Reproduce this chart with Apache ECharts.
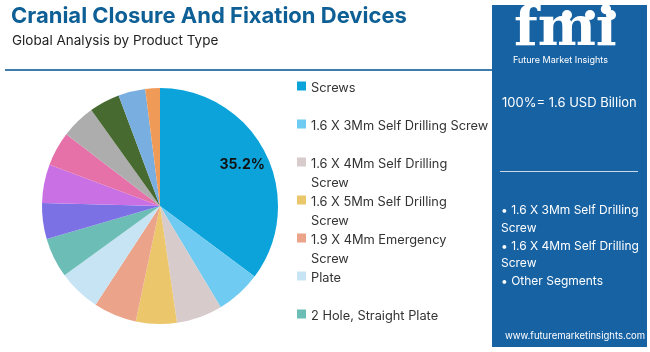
<!DOCTYPE html>
<html>
<head>
<meta charset="utf-8">
<script src="https://cdn.jsdelivr.net/npm/echarts@6/dist/echarts.min.js"></script>
<style>
  html, body { margin: 0; padding: 0; background: #fff; }
  #main { width: 650px; height: 352px; }
</style>
</head>
<body>
<div id="main"></div>
<script>
// 数据：产品类型及占比
var categories = [
  'Screws',
  '1.6 X 3Mm Self Drilling Screw',
  '1.6 X 4Mm Self Drilling Screw',
  '1.6 X 5Mm Self Drilling Screw',
  '1.9 X 4Mm Emergency Screw',
  'Plate',
  '2 Hole, Straight Plate',
  '4 Hole, Straight Plate',
  'Burr Hole Cover',
  'Mesh',
  'Clamps',
  'Skull Clamp',
  'Instruments',
  'Others'
]
var shares = [35.2, 6.2, 6.3, 5.6, 5.9, 5.8, 5.5, 4.9, 5.3, 4.7, 4.7, 4.2, 3.7, 2.0]
var colorList = ['#0ba3d9', '#6fcbf1', '#d7cbcb', '#ecc66b', '#eba38a', '#c7e4f4', '#6dbdb7',
  '#7b70e4', '#c970e4', '#e671a9', '#adadad', '#476a30', '#79aee0', '#f09a58']
// 图例只显示前7项
var legendNames = categories.slice(0, 7)
// 图例里需要换行的名称
var wrapped = {
  '1.6 X 4Mm Self Drilling Screw': '1.6 X 4Mm Self Drilling\nScrew',
  '1.6 X 5Mm Self Drilling Screw': '1.6 X 5Mm Self Drilling\nScrew',
  '1.9 X 4Mm Emergency Screw': '1.9 X 4Mm Emergency\nScrew'
}
var panelBullets = ['• 1.6 X 3Mm Self Drilling', 'Screw', '• 1.6 X 4Mm Self Drilling', 'Screw', '• Other Segments']

var font = 'Inter, "Open Sans", sans-serif'
var myChart = echarts.init(document.getElementById('main'))

var pieData = categories.map(function (name, idx) {
  return { name: name, value: shares[idx] }
})

var option = {
  color: colorList,
  animation: false,
  title: [{
    text: 'Cranial Closure And Fixation Devices',
    left: 11,
    top: 5,
    padding: 0,
    textStyle: { fontFamily: font, fontSize: 22, fontWeight: 'bold', color: '#0d5f95' }
  }, {
    text: 'Global Analysis by Product Type',
    left: 12,
    top: 34,
    padding: 0,
    textStyle: { fontFamily: font, fontSize: 13.5, fontWeight: 'normal', color: '#222' }
  }],
  legend: {
    orient: 'vertical',
    left: 297,
    top: 79,
    height: 273,
    padding: 0,
    itemGap: 0,
    itemWidth: 9,
    itemHeight: 38,
    // 图标画在上半部分，跟第一行文字对齐
    icon: 'path://M0,5 L9,5 L9,14 L0,14 Z M0,38 L0.01,38 L0.01,38.01 Z',
    data: legendNames,
    formatter: function (name) {
      return wrapped[name] || (name + '\n ')
    },
    textStyle: { fontFamily: font, fontSize: 12.8, color: '#333', lineHeight: 19 }
  },
  graphic: [
    // 标题下面的横线
    { type: 'rect', left: 5, top: 69, shape: { width: 488, height: 2 }, style: { fill: '#3f7bab' } },
    // 右边蓝色面板
    { type: 'rect', left: 492, top: 5, shape: { width: 155, height: 342 }, style: { fill: '#1762a3' } },
    { type: 'text', left: 514, top: 3, style: { text: 'fmi', fontFamily: 'DejaVu Serif', fontSize: 55, fontWeight: 'bold', fill: '#fff' } },
    { type: 'circle', shape: { cx: 567, cy: 15, r: 5 }, style: { fill: '#fff' } },
    { type: 'circle', shape: { cx: 590, cy: 15, r: 5 }, style: { fill: '#fff' } },
    { type: 'circle', shape: { cx: 611, cy: 15, r: 5 }, style: { fill: '#fff' } },
    { type: 'text', left: 513, top: 56, style: { text: 'Future Market Insights', fontFamily: font, fontSize: 9, fill: '#fff' } },
    { type: 'text', left: 502, top: 97, style: { text: '100%= 1.6 USD Billion', fontFamily: font, fontSize: 13, fill: '#fff' } },
    { type: 'rect', left: 500, top: 171, shape: { width: 138, height: 1 }, style: { fill: '#c9d9ea' } },
    { type: 'text', left: 501, top: 202, style: { text: panelBullets.join('\n'), fontFamily: font, fontSize: 12, lineHeight: 17.6, fill: '#fff' } },
    { type: 'text', left: 505, top: 331, style: { text: 'www.futuremarketinsights.com', fontFamily: font, fontSize: 9.5, fill: '#fff' } }
  ],
  series: [{
    name: 'Product Type',
    type: 'pie',
    center: [160, 206],
    radius: 118,
    startAngle: 90,
    clockwise: true,
    label: { show: false },
    labelLine: { show: false },
    data: pieData
  }, {
    // 透明的一层，只用来放 35.2% 标签
    name: 'label',
    type: 'pie',
    silent: true,
    center: [160, 206],
    radius: [60, 118],
    startAngle: 90,
    clockwise: true,
    itemStyle: { color: 'rgba(0,0,0,0)' },
    label: {
      show: true,
      position: 'inside',
      fontFamily: font,
      fontSize: 14,
      fontWeight: 'bold',
      color: '#111',
      formatter: function (item) {
        return item.dataIndex === 0 ? item.value.toFixed(1) + '%' : ''
      }
    },
    labelLine: { show: false },
    data: pieData
  }]
}
myChart.setOption(option)
</script>
</body>
</html>
